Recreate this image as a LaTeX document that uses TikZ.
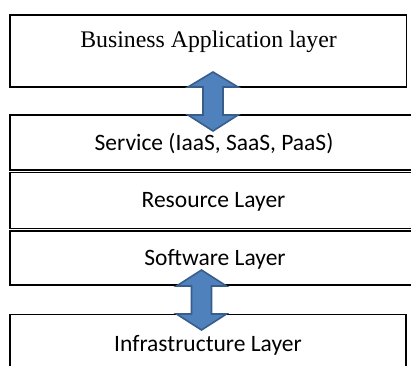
\documentclass[tikz,border=0pt]{standalone}
\usepackage{fontspec}
\setmainfont{Liberation Serif}
\newfontfamily\calfont{Carlito}
\tikzset{
  layerbox/.style={draw=black, line width=1.5pt, fill=white, inner sep=0pt},
  serifl/.style={font=\fontsize{23.8}{27}\selectfont, anchor=base, inner sep=0pt},
  sansl/.style={font=\calfont\fontsize{23.5}{27}\selectfont, anchor=base, inner sep=0pt},
  blockarrow/.style={fill=arrowfill, draw=arrowline, line width=1.6pt, line join=miter},
}
\definecolor{arrowfill}{HTML}{4F81BD}
\definecolor{arrowline}{HTML}{385D8A}
\begin{document}
\begin{tikzpicture}[x=1pt,y=-1pt]
\useasboundingbox (0,0) rectangle (411,365);
% boxes
\node[layerbox, minimum width=396.5pt, minimum height=72pt] (b1) at (208.25,51) {};
\node[layerbox, minimum width=408pt, minimum height=55pt] (b2) at (214,142.5) {};
\node[layerbox, minimum width=408pt, minimum height=56pt] (b3) at (214,200.5) {};
\node[layerbox, minimum width=408pt, minimum height=54pt] (b4) at (214,258) {};
\node[layerbox, minimum width=396pt, minimum height=66pt] (b5) at (208,347.5) {};
% labels
\node[serifl] (t1) at (208.5,47) {Business Application layer};
\node[sansl] (t2) at (214,150) {Service (IaaS, SaaS, PaaS)};
\node[sansl] (t3) at (213.5,207.5) {Resource Layer};
\node[sansl] (t4) at (215,265) {Software Layer};
\node[sansl] (t5) at (208,351) {Infrastructure Layer};
% block double arrows
\draw[blockarrow] (213,72) -- (238,87) -- (223,87) -- (223,115) -- (238,115) -- (213,131)
  -- (188,115) -- (203,115) -- (203,87) -- (188,87) -- cycle;
\draw[blockarrow] (201.5,270) -- (226.5,286) -- (211.5,286) -- (211.5,314) -- (226.5,314) -- (201.5,330)
  -- (176.5,314) -- (191.5,314) -- (191.5,286) -- (176.5,286) -- cycle;
\end{tikzpicture}
\end{document}
